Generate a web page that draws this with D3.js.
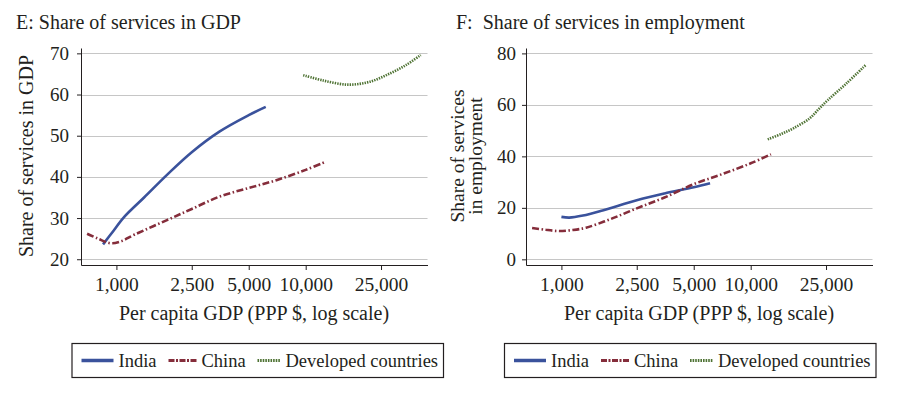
<!DOCTYPE html>
<html>
<head>
<meta charset="utf-8">
<script src="https://cdn.jsdelivr.net/npm/d3@7/dist/d3.min.js"></script>
<style>
  body { margin: 0; background: #fff; }
</style>
</head>
<body>
<div id="chart"></div>
<script>
// per capita GDP (PPP $) vs share of services
var indiaGdp = [[850, 23.6], [950, 26.5], [1100, 30.3], [1400, 35], [1850, 40.5], [2500, 46], [3500, 51], [5000, 55], [6150, 57]];
var chinaGdp = [[700, 26.2], [800, 25], [930, 23.9], [1050, 24.3], [1250, 26], [1850, 29.5], [2500, 32.2], [3500, 35.2], [5000, 37.3], [7000, 39.2], [10000, 41.7], [12500, 43.5]];
var devGdp = [[9700, 64.7], [12400, 63.4], [16700, 62.4], [21800, 63.1], [27800, 65.1], [34000, 67.2], [40500, 69.6]];

var indiaEmp = [[1000, 16.5], [1100, 16.2], [1300, 17], [1650, 19], [2500, 23], [3500, 25.6], [5000, 28], [6100, 29.6]];
var chinaEmp = [[700, 12.2], [820, 11.5], [970, 11], [1150, 11.4], [1350, 12.3], [1800, 15.5], [2500, 19.8], [3500, 24], [5000, 29.2], [7000, 33], [10000, 37.3], [12800, 40.8]];
var devEmp = [[12300, 46.6], [14500, 48.7], [16800, 50.9], [20500, 54.8], [22900, 58.4], [25500, 61.8], [32000, 68.3], [40500, 75.5]];

var xTicks = [1000, 2500, 5000, 10000, 25000];
var yTicksGdp = [20, 30, 40, 50, 60, 70];
var yTicksEmp = [0, 20, 40, 60, 80];
var seriesNames = ["India", "China", "Developed countries"];

var styles = [
    {color: "#3a529c", dash: null, width: 2.6},
    {color: "#852d3b", dash: "7,2.5,1.5,2.5", width: 2.6},
    {color: "#4f7334", dash: "1.4,1.1", width: 2.6}
];

var FONT = "Liberation Serif";
var ink = "#231f20";
var svg = d3.select("#chart").append("svg").attr("width", 906).attr("height", 398)
    .attr("font-family", FONT);
var fmt = d3.format(",");

function txt(sel) {
    return sel.attr("font-family", FONT).attr("fill", ink);
}

function panel(o) {
    var g = svg.append("g");
    var x = d3.scaleLog().domain([650, 44000]).range([o.left, o.left + 346.5]);
    var y = d3.scaleLinear().domain(o.yDomain).range([265, 48]);

    txt(g.append("text")).attr("x", o.titleX).attr("y", 29).attr("font-size", 20)
        .attr("xml:space", "preserve").text(o.title);

    // gridlines
    g.selectAll(".grid").data(o.yTicks).enter().append("line")
        .attr("x1", o.left).attr("x2", o.left + 346.5)
        .attr("y1", function (d) { return Math.round(y(d)) + 0.5; })
        .attr("y2", function (d) { return Math.round(y(d)) + 0.5; })
        .attr("stroke", "#c6c6c6").attr("stroke-width", 1.2);

    var ay = g.append("g").attr("transform", "translate(" + o.left + ",0)")
        .call(d3.axisLeft(y).tickValues(o.yTicks).tickSize(4).tickPadding(o.pad).tickSizeOuter(0))
        .attr("font-family", FONT);
    ay.select(".domain").attr("stroke", ink);
    ay.selectAll(".tick line").attr("stroke", ink);
    txt(ay.selectAll("text")).attr("font-size", 19);

    var ax = g.append("g").attr("transform", "translate(0,265)")
        .call(d3.axisBottom(x).tickValues(xTicks).tickFormat(fmt).tickSize(5).tickPadding(7).tickSizeOuter(0))
        .attr("font-family", FONT);
    ax.select(".domain").attr("stroke", ink);
    ax.selectAll(".tick line").attr("stroke", ink);
    txt(ax.selectAll("text")).attr("font-size", 19.5);

    txt(g.append("text")).attr("x", o.left + 173).attr("y", 320).attr("text-anchor", "middle")
        .attr("font-size", 20).text("Per capita GDP (PPP $, log scale)");

    o.yTitle.forEach(function (t, i) {
        txt(g.append("text")).attr("transform", "translate(" + o.yTitleX[i] + ",156) rotate(-90)")
            .attr("text-anchor", "middle").attr("font-size", o.yTitleSize).text(t);
    });

    var line = d3.line().x(function (d) { return x(d[0]); }).y(function (d) { return y(d[1]); })
        .curve(d3.curveCatmullRom.alpha(0.5));
    o.series.forEach(function (s, i) {
        g.append("path").datum(s).attr("d", line).attr("fill", "none")
            .attr("stroke", styles[i].color).attr("stroke-width", styles[i].width)
            .attr("stroke-dasharray", styles[i].dash);
    });

    // legend
    var lg = g.append("g").attr("transform", "translate(" + o.legX + ",343)");
    lg.append("rect").attr("x", 0.5).attr("y", 0.5).attr("width", 371.5).attr("height", 34)
        .attr("fill", "none").attr("stroke", ink).attr("stroke-width", 1.2);
    var mk = [[10, 42], [97, 125], [186, 209]];
    seriesNames.forEach(function (n, i) {
        lg.append("line").attr("x1", mk[i][0]).attr("x2", mk[i][1]).attr("y1", 17.5).attr("y2", 17.5)
            .attr("stroke", styles[i].color).attr("stroke-width", i == 0 ? 3.5 : 3)
            .attr("stroke-dasharray", i == 1 ? "6,1.5,2,1.5" : i == 2 ? "1.6,1" : null);
        txt(lg.append("text")).attr("x", mk[i][1] + 5).attr("y", 23.5).attr("font-size", 18.5).text(n);
    });
}

panel({
    left: 81, title: "E: Share of services in GDP", titleX: 16,
    yDomain: [18.6, 71.3], yTicks: yTicksGdp, pad: 8,
    yTitle: ["Share of services in GDP"], yTitleX: [33], yTitleSize: 20,
    series: [indiaGdp, chinaGdp, devGdp], legX: 71.5
});
panel({
    left: 526, title: "F:  Share of services in employment", titleX: 456,
    yDomain: [-2.2, 82.1], yTicks: yTicksEmp, pad: 6,
    yTitle: ["Share of services", "in employment"], yTitleX: [464, 482], yTitleSize: 19.5,
    series: [indiaEmp, chinaEmp, devEmp], legX: 504
});
</script>
</body>
</html>
